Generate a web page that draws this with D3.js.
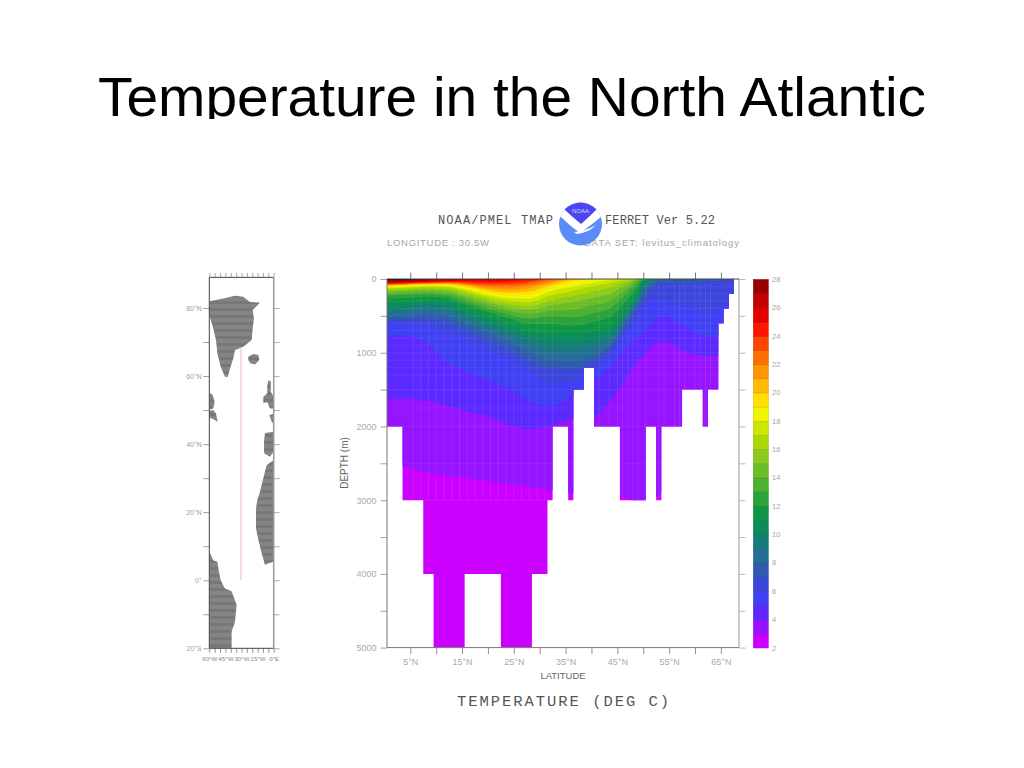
<!DOCTYPE html>
<html><head><meta charset="utf-8">
<style>html,body{margin:0;padding:0;background:#fff;overflow:hidden}svg{display:block}text{font-family:"Liberation Sans",Arial,sans-serif}</style>
<script src="https://cdn.jsdelivr.net/npm/d3@7"></script></head><body>
<script>
const titleText = "Temperature in the North Atlantic";
// latitudes at which each isotherm depth (m) was read
const sampleLats = [0.5,4,8,12,16,20,24,28,32,36,40,44,46,48,49,50,52,54,58,62,68];
const t3  = [2500,2550,2620,2670,2700,2740,2780,2820,2860,2900,2900,2880,2930,3020,3050,3050,3000,2880,2900,2900,2900];
const t4  = [1620,1620,1640,1720,1800,1860,1980,2030,1990,1900,1880,1620,1430,1200,1110,1040,895,850,980,1044,1044];
const t5  = [770,770,860,1120,1260,1370,1480,1660,1720,1600,1400,1150,980,830,770,720,580,510,640,780,780];
const t6  = [610,620,640,720,830,960,1090,1270,1410,1400,1280,1000,800,620,500,380,260,300,370,440,250];
const t7  = [560,550,540,590,710,830,960,1120,1220,1230,1140,920,720,500,380,300,110,50,60,40,10];
const t8  = [510,500,470,500,620,730,850,990,1100,1110,1050,860,650,420,330,200,60,15,10,0,0];
const t9  = [450,440,400,430,550,660,760,880,970,980,930,800,590,380,280,120,30,0,0,0,0];
const t10 = [390,380,340,360,480,590,690,790,850,860,820,720,530,340,230,60,10,0,0,0,0];
const t11 = [330,320,290,300,420,520,620,720,740,750,720,640,470,300,180,30,0,0,0,0,0];
const t12 = [265,260,240,260,355,450,530,610,610,640,590,500,350,200,100,15,0,0,0,0,0];
const t13 = [225,215,205,225,310,405,480,540,510,520,470,380,250,120,50,8,0,0,0,0,0];
const t14 = [195,185,175,190,270,360,430,480,430,420,360,280,180,70,20,5,0,0,0,0,0];
const t15 = [170,160,150,160,235,320,385,420,360,320,260,190,110,35,5,0,0,0,0,0,0];
const t16 = [150,140,125,135,200,280,340,370,290,240,170,110,55,15,0,0,0,0,0,0,0];
const t17 = [130,120,105,112,170,245,300,315,225,170,100,50,20,5,0,0,0,0,0,0,0];
const t18 = [115,105,90,95,145,215,260,265,165,110,55,15,5,0,0,0,0,0,0,0,0];
const t19 = [100,92,78,80,120,185,225,215,120,40,5,0,0,0,0,0,0,0,0,0,0];
const t20 = [90,82,70,70,100,155,185,170,85,20,0,0,0,0,0,0,0,0,0,0,0];
const t21 = [84,76,65,62,85,130,150,125,55,8,0,0,0,0,0,0,0,0,0,0,0];
const t22 = [78,70,60,55,72,105,115,85,30,0,0,0,0,0,0,0,0,0,0,0,0];
const t23 = [72,64,54,48,60,80,80,50,10,0,0,0,0,0,0,0,0,0,0,0,0];
const t24 = [66,58,48,40,45,55,50,30,0,0,0,0,0,0,0,0,0,0,0,0,0];
const t25 = [58,50,40,30,28,30,25,10,0,0,0,0,0,0,0,0,0,0,0,0,0];
const t26 = [48,40,30,20,14,10,4,0,0,0,0,0,0,0,0,0,0,0,0,0,0];
const t27 = [32,26,16,8,0,0,0,0,0,0,0,0,0,0,0,0,0,0,0,0,0];
const t28 = [14,10,3,0,0,0,0,0,0,0,0,0,0,0,0,0,0,0,0,0,0];
const isotherms = [t3,t4,t5,t6,t7,t8,t9,t10,t11,t12,t13,t14,t15,t16,t17,t18,t19,t20,t21,t22,t23,t24,t25,t26,t27,t28];
// colour of each 1-degree band, 2-3 first
const bandColors = ["#cc00ff","#9614ff","#5c2aff","#4040f4","#3c46dc","#2f5ab0","#256f96","#157d78","#0a8c5c","#0f9645","#2ca33a","#4cb030","#6bbd28","#8cca1e","#a8d900","#cde600","#f0f500","#ffe000","#ffbb00","#ff9500","#ff6e00","#ff4500","#ff1500","#e60000","#c40000","#9b0000"];
const colorLevels = d3.range(2,29);
const colorLabels = d3.range(2,29,2);
// sea floor: column edges (deg N) and deepest filled level (m)
const floorEdges = [0.5,3.5,7.5,9.5,15.5,22.5,28.5,31.5,32.5,35.5,36.5,38.5,40.5,45.5,50.5,52.5,53.5,57.5,61.5,62.5,64.5,65.5,66.5,67.5];
const floorDepths = [2000,3000,4000,5000,4000,5000,4000,3000,2000,3000,1500,1200,2000,3000,2000,3000,2000,1500,2000,1500,600,400,200];
// cell seams visible in the fill
const seamLats = d3.range(5.5,33,1.5).concat([41.5,43.5,45,46,47,48,49,50.5,53,54,56,57,58,60,61,62,63]);
const seamDepths = [100,200,300,400,500,600,700,800,900,1000,1100,1200,1300,1500,1750,2000,2500,3000];
const latTicks = [5,10,15,20,25,30,35,40,45,50,55,60,65];
const latLabelled = [5,15,25,35,45,55,65];
const depthTicks = d3.range(0,5001,500);
// map land outlines, [lon, lat]
const greenland = [[-60,82],[-47,82.8],[-36.1,83.6],[-28.3,83.3],[-22.1,81.8],[-12.8,81.6],[-15.3,80.7],[-19.6,79.4],[-18.4,76.9],[-19.6,74],[-20.5,70.6],[-28.3,68.6],[-36.1,67.6],[-37.6,65.2],[-40.7,62.2],[-42.9,59.7],[-45.4,59.8],[-49.4,62.7],[-52.5,66.6],[-53.8,70.6],[-56.3,74],[-60,77.9]];
const iceland = [[-23.7,65.7],[-19,66.5],[-14.3,66.2],[-13.4,64.7],[-17.4,63.4],[-21.5,63.7],[-23.7,64.7]];
const labrador = [[-60,55.2],[-56.9,54.4],[-55,52.4],[-56.3,50.5],[-60,50.2]];
const newfoundland = [[-60,49.8],[-56.3,50],[-53.8,49],[-52.2,46.6],[-56.3,47.4],[-58.8,47.6],[-60,48]];
const britain = [[-5,58.8],[-2.5,58.3],[-2.8,55.4],[0,53.9],[0,50.5],[-3.5,50.5],[-6,52.4],[-9.7,52],[-9.7,53.9],[-6,54.9],[-6,57.3]];
const france = [[-4.1,48.5],[0,49],[0,46],[-1.9,46.6]];
const iberia = [[-8.1,43.3],[0,43.6],[0,37.8],[-3.5,36.3],[-9,37.3],[-9,40.7]];
const africa = [[-6.6,33.8],[0,35.3],[0,5.4],[-5,5],[-8.1,4.5],[-11.2,7.9],[-14.3,11.8],[-16.5,15.2],[-16.5,21.1],[-15.3,23.6],[-12.8,26],[-9.7,30]];
const southAmerica = [[-60,8.4],[-56.3,5.9],[-52.5,5.4],[-50.7,2],[-49.4,0],[-45.4,-2.4],[-39.2,-3.2],[-34.5,-7.3],[-36.1,-12.2],[-39.2,-15.1],[-39.2,-20],[-60,-20]];
const landParts = [greenland,iceland,labrador,newfoundland,britain,france,iberia,africa,southAmerica];
const sectionLon = -30.5, sectionLats = [0,68];
const mapLatTicks = d3.range(-20,81,10);
const mapLonTicks = d3.range(-60,1,5);
const mapLatLabels = [[-20,"20°S"],[0,"0°"],[20,"20°N"],[40,"40°N"],[60,"60°N"],[80,"80°N"]];
const mapLonLabels = [[-60,"60°W"],[-45,"45°W"],[-30,"30°W"],[-15,"15°W"],[0,"0°E"]];

const svg = d3.select("body").append("svg").attr("width",1024).attr("height",768);
const defs = svg.append("defs");

// ---------- title
defs.append("clipPath").attr("id","titleClip").append("rect").attr("x",0).attr("y",0).attr("width",1024).attr("height",119);
svg.append("text").attr("clip-path","url(#titleClip)").attr("x",98).attr("y",115.7)
  .attr("font-size",56).attr("fill","#000").attr("textLength",828).attr("lengthAdjust","spacingAndGlyphs").text(titleText);

// ---------- section panel
const x = d3.scaleLinear().domain([0.5,68.5]).range([387,739]);
const y = d3.scaleLinear().domain([0,5000]).range([279,647.6]);
defs.append("clipPath").attr("id","floorClip").append("path")
  .attr("d", d3.area().curve(d3.curveStepAfter).x(d=>x(d[0])).y0(y(0)).y1(d=>y(d[1]))(
     floorEdges.map((e,i)=>[e, i<floorDepths.length?floorDepths[i]:floorDepths[floorDepths.length-1]])));
const fill = svg.append("g").attr("clip-path","url(#floorClip)");
fill.append("rect").attr("x",x(0.5)).attr("y",y(0)).attr("width",x(68.5)-x(0.5)).attr("height",y(5000)-y(0)).attr("fill",bandColors[0]);
const isoArea = d3.area().curve(d3.curveMonotoneX).x((d,i)=>x(sampleLats[i])).y0(y(0)).y1(d=>y(d));
fill.selectAll("path.band").data(isotherms).join("path").attr("class","band")
  .attr("d",isoArea).attr("fill",(d,i)=>bandColors[i+1]);
fill.selectAll("line.vs").data(seamLats).join("line").attr("class","vs")
  .attr("x1",d=>x(d)).attr("x2",d=>x(d)).attr("y1",y(60)).attr("y2",y(3000))
  .attr("stroke","#fff").attr("stroke-opacity",0.13).attr("stroke-width",0.7);
fill.selectAll("line.hs").data(seamDepths).join("line").attr("class","hs")
  .attr("x1",x(0.5)).attr("x2",x(68.5)).attr("y1",d=>y(d)).attr("y2",d=>y(d))
  .attr("stroke","#fff").attr("stroke-opacity",0.1).attr("stroke-width",0.7);

function styleAxis(g,color,size,lineColor){
  g.select(".domain").remove();
  g.selectAll("text").attr("fill",color).attr("font-size",size);
  g.selectAll("line").attr("stroke",lineColor).attr("stroke-width",0.8);
}
const deg = d=>latLabelled.includes(d)?d+"°N":"";
svg.append("g").attr("transform",`translate(0,${y(5000)})`)
  .call(d3.axisBottom(x).tickValues(latTicks).tickFormat(deg).tickSize(6.5).tickPadding(4.5))
  .call(styleAxis,"#aaa",9,"#777");
svg.append("g").attr("transform",`translate(0,${y(0)})`)
  .call(d3.axisTop(x).tickValues(latTicks).tickFormat("").tickSize(6.5)).call(styleAxis,"#999",8,"#555");
svg.append("g").attr("transform",`translate(${x(0.5)},0)`)
  .call(d3.axisLeft(y).tickValues(depthTicks).tickFormat(d=>d%1000===0?d:"").tickSize(6.5).tickPadding(4))
  .call(styleAxis,"#aaa",9,"#888");
svg.append("g").attr("transform",`translate(${x(68.5)},0)`)
  .call(d3.axisRight(y).tickValues(depthTicks).tickFormat("").tickSize(6.5)).call(styleAxis,"#999",8,"#aaa");
const frameLine=(a,b,c,d,col,w)=>svg.append("line").attr("x1",a).attr("y1",b).attr("x2",c).attr("y2",d).attr("stroke",col).attr("stroke-width",w);
frameLine(x(0.5),y(0),x(0.5),y(5000),"#777",1);
frameLine(x(0.5),y(5000),x(68.5),y(5000),"#777",1);
frameLine(x(68.5),y(0),x(68.5),y(5000),"#999",1);
frameLine(x(0.5),y(0),x(68.5),y(0),"#444",1);

const label=(t,px,py,size,col,anchor,fam,len)=>{
  const n=svg.append("text").attr("x",px).attr("y",py).attr("font-size",size).attr("fill",col).attr("text-anchor",anchor||"start").text(t);
  if(fam) n.style("font-family",fam);
  if(len) n.attr("textLength",len);
  return n;
};
const mono='"Liberation Mono",monospace';
label("NOAA/PMEL TMAP",438,224,12,"#555","start",mono,115);
label("FERRET Ver 5.22",605,224,12,"#555","start",mono,110);
label("LONGITUDE : 30.5W",387,245.5,9.5,"#a5a5a5","start",null,102);
label("DATA SET: levitus_climatology",584,245.5,9.5,"#a5a5a5","start",null,155);
label("TEMPERATURE (DEG C)",457,706,15.5,"#555","start",mono,212);
label("LATITUDE",563,678.5,9.5,"#666","middle");
svg.append("text").attr("transform","translate(347.5,463) rotate(-90)").attr("text-anchor","middle")
  .attr("font-size",10).attr("fill","#666").text("DEPTH (m)");

// ---------- NOAA logo
defs.append("clipPath").attr("id","logoClip").append("circle").attr("cx",580.5).attr("cy",224).attr("r",21.5);
const logo=svg.append("g").attr("clip-path","url(#logoClip)");
logo.append("rect").attr("x",555).attr("y",198).attr("width",52).attr("height",52).attr("fill","#5b8cf6");
logo.append("path").attr("d","M555,198H607V219L601,217Q590,226 580,233Q570,226 561,217L555,219Z").attr("fill","#fff");
logo.append("path").attr("d","M563,208Q568,201 580,200Q593,201 598,208Q590,216 581,224Q571,216 563,208Z").attr("fill","#4c46f0");
logo.append("path").attr("d","M574,232Q586,231 596,225Q588,233 577,234Z").attr("fill","#fff");
label("NOAA",580.5,213,6,"#d8d8ff","middle");

// ---------- colour bar
const cy = d3.scaleLinear().domain([2,28]).range([648,279.5]);
svg.append("g").selectAll("rect").data(bandColors).join("rect")
  .attr("x",753.3).attr("width",15).attr("y",(d,i)=>cy(colorLevels[i+1])).attr("height",(d,i)=>cy(colorLevels[i])-cy(colorLevels[i+1]))
  .attr("fill",d=>d).attr("stroke",d=>d3.color(d).darker(0.6)).attr("stroke-width",0.5);
svg.append("g").selectAll("text").data(colorLabels).join("text")
  .attr("x",772).attr("y",d=>cy(d)+2.5).attr("font-size",7.5).attr("fill","#a5a5a5").text(d=>d);

// ---------- location map
const mx = d3.scaleLinear().domain([-60,0]).range([209.3,273.7]);
const my = d3.scaleLinear().domain([-20,80]).range([648.3,308]);
const pat = defs.append("pattern").attr("id","scan").attr("patternUnits","userSpaceOnUse").attr("width",4).attr("height",7);
pat.append("rect").attr("width",4).attr("height",7).attr("fill","#858585");
pat.append("rect").attr("width",4).attr("height",3).attr("fill","#787878");
defs.append("clipPath").attr("id","mapClip").append("rect").attr("x",mx(-60)).attr("y",my(89)).attr("width",mx(0)-mx(-60)).attr("height",my(-20)-my(89));
const landLine = d3.line().x(d=>mx(d[0])).y(d=>my(d[1])).curve(d3.curveLinearClosed);
svg.append("g").attr("clip-path","url(#mapClip)").selectAll("path").data(landParts).join("path").attr("d",landLine).attr("fill","url(#scan)");
svg.append("line").attr("x1",mx(sectionLon)).attr("x2",mx(sectionLon)).attr("y1",my(sectionLats[0])).attr("y2",my(sectionLats[1]))
  .attr("stroke","#f3cfc9").attr("stroke-width",1.5);
svg.append("g").attr("transform",`translate(${mx(-60)},0)`)
  .call(d3.axisLeft(my).tickValues(mapLatTicks).tickFormat(d=>{const m=mapLatLabels.find(l=>l[0]===d);return m?m[1]:"";}).tickSize(6).tickPadding(1.5))
  .call(styleAxis,"#a0a0a0",7,"#888");
svg.append("g").attr("transform",`translate(${mx(0)},0)`)
  .call(d3.axisRight(my).tickValues(mapLatTicks).tickFormat("").tickSize(6)).call(styleAxis,"#999",6.5,"#999");
svg.append("g").attr("transform",`translate(0,${my(-20)})`)
  .call(d3.axisBottom(mx).tickValues(mapLonTicks).tickFormat(d=>{const m=mapLonLabels.find(l=>l[0]===d);return m?m[1]:"";}).tickSize(4.5).tickPadding(4))
  .call(styleAxis,"#8a8a8a",6.2,"#777");
svg.append("g").attr("transform",`translate(0,${my(89)})`)
  .call(d3.axisTop(mx).tickValues(mapLonTicks).tickFormat("").tickSize(4.5)).call(styleAxis,"#999",6,"#999");
frameLine(mx(-60),my(89),mx(0),my(89),"#444",1);
frameLine(mx(-60),my(89),mx(-60),my(-20),"#444",1);
frameLine(mx(-60),my(-20),mx(0),my(-20),"#444",1);
frameLine(mx(0),my(89),mx(0),my(-20),"#999",1.5);
</script></body></html>
